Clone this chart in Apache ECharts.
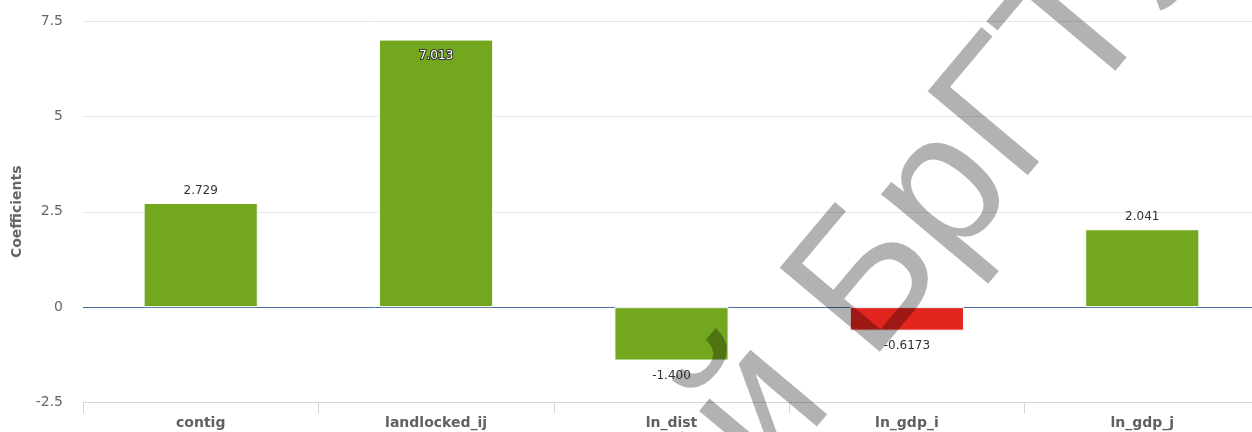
<!DOCTYPE html>
<html>
<head>
<meta charset="utf-8">
<script src="https://cdn.jsdelivr.net/npm/echarts@6/dist/echarts.min.js"></script>
<style>
  html, body { margin: 0; padding: 0; background: #ffffff; }
  #chart { width: 1252px; height: 432px; }
</style>
</head>
<body>
<div id="chart"></div>
<script>
// Regression coefficients per variable
const categories = ['contig', 'landlocked_ij', 'ln_dist', 'ln_gdp_i', 'ln_gdp_j'];
const coefficients = [2.729, 7.013, -1.400, -0.6173, 2.041];
// Bar colour flag per variable: true = green, false = red
const positiveEffect = [true, true, true, false, true];
// Value axis ticks
const yTicks = [-2.5, 0, 2.5, 5, 7.5];

const GREEN = '#73A71E';
const RED = '#E3251F';
const FONT = '"DejaVu Sans", sans-serif';

const chart = echarts.init(document.getElementById('chart'), null, { renderer: 'canvas' });

const barData = coefficients.map((v, i) => {
  const inside = v > 6.5;
  return {
    value: v,
    itemStyle: { color: positiveEffect[i] ? GREEN : RED },
    label: inside
      ? { position: 'insideTop', distance: 10, color: '#ffffff', textBorderColor: '#333333', textBorderWidth: 2 }
      : { position: v >= 0 ? 'top' : 'bottom', distance: v >= 0 ? 6 : 9 }
  };
});

// Repository stamp text laid diagonally across the plot
const WM_TEXT = 'Репозиторий БрГТУ';
const WM_SIZE = 190;
const WM_FONT = WM_SIZE + 'px "Liberation Sans", Arial, sans-serif';
const measure = document.createElement('canvas').getContext('2d');
measure.font = WM_FONT;
const prefixW = measure.measureText('Репозиторий Бр').width;
const ang = 50 * Math.PI / 180;
const ux = Math.cos(ang), uy = -Math.sin(ang);
const gx = 1028, gy = 196;          // baseline origin of the "Г"
const sx = gx - prefixW * ux, sy = gy - prefixW * uy;
const mid = 0.3465 * WM_SIZE;
const ax = sx - mid * Math.sin(ang), ay = sy - mid * Math.cos(ang);

const option = {
  backgroundColor: '#ffffff',
  animation: false,
  textStyle: { fontFamily: FONT },
  grid: { left: 83, right: -8, top: 21, bottom: 29.5, containLabel: false, outerBoundsMode: 'none' },
  xAxis: {
    type: 'category',
    data: categories,
    boundaryGap: true,
    axisLine: { onZero: false, lineStyle: { color: '#d6d6d6', width: 1 } },
    axisTick: { show: true, length: 11, lineStyle: { color: '#d6d6d6' } },
    axisLabel: { color: '#606060', fontSize: 14, fontWeight: 'bold', fontFamily: FONT, margin: 14 },
    splitLine: { show: false }
  },
  yAxis: {
    type: 'value',
    min: yTicks[0],
    max: yTicks[yTicks.length - 1],
    interval: 2.5,
    name: 'Coefficients',
    nameLocation: 'middle',
    nameRotate: 90,
    nameGap: 58,
    nameTextStyle: { color: '#666666', fontSize: 14, fontWeight: 'bold', fontFamily: FONT },
    axisLine: { show: false },
    axisTick: { show: false },
    axisLabel: { color: '#666666', fontSize: 14, fontFamily: FONT, margin: 20 },
    splitLine: {
      show: true,
      lineStyle: { color: ['#d6d6d6', '#4a6fa5', '#e6e6e6', '#e6e6e6', '#e6e6e6'], width: 1 }
    }
  },
  series: [{
    type: 'bar',
    data: barData,
    barWidth: '48.5%',
    itemStyle: { borderColor: '#ffffff', borderWidth: 1 },
    label: {
      show: true,
      fontSize: 12,
      fontFamily: FONT,
      color: '#333333',
      formatter: p => Number(p.value).toPrecision(4)
    }
  }],
  graphic: [{
    type: 'text',
    x: ax,
    y: ay,
    rotation: ang,
    silent: true,
    z: 100,
    style: {
      text: WM_TEXT,
      font: WM_FONT,
      fill: 'rgba(0,0,0,0.30)',
      textAlign: 'left',
      textVerticalAlign: 'middle'
    }
  }]
};

chart.setOption(option);
</script>
</body>
</html>
